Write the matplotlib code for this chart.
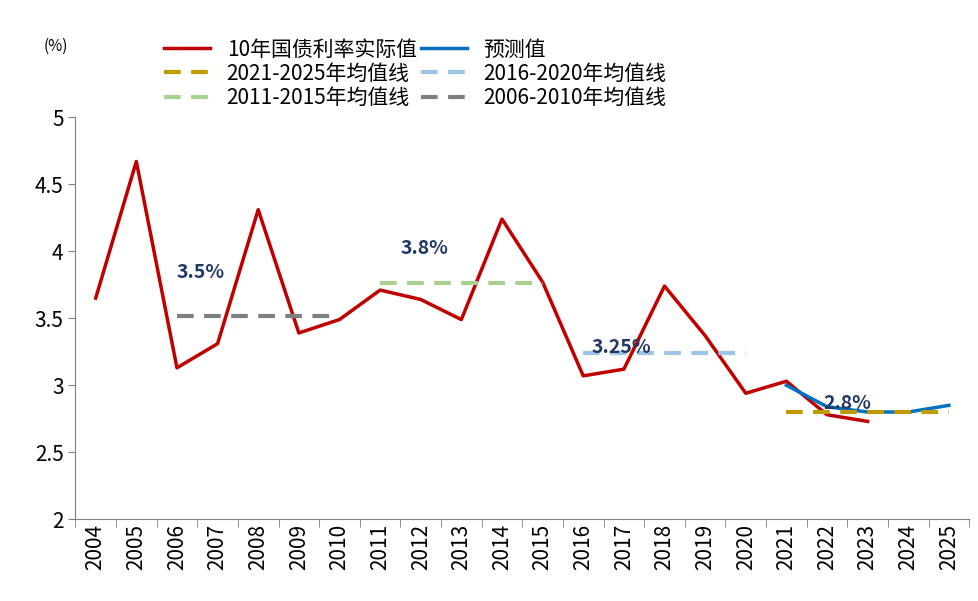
import matplotlib
matplotlib.use("Agg")
import matplotlib.pyplot as plt
from matplotlib import font_manager as fm
import numpy as np

cjk = [f.name for f in fm.fontManager.ttflist if "CJK" in f.name]
pref = [n for n in ["Noto Sans CJK SC", "Noto Sans CJK JP"] if n in cjk] or cjk[:1]
plt.rcParams["font.family"] = pref + ["DejaVu Sans"]

YEARS = list(range(2004, 2026))
ACTUAL = [3.65, 4.67, 3.13, 3.31, 4.31, 3.39, 3.49, 3.71, 3.64, 3.49, 4.24, 3.77,
          3.07, 3.12, 3.74, 3.37, 2.94, 3.03, 2.78, 2.73]
FORECAST_YEARS = [2021, 2022, 2023, 2024, 2025]
FORECAST = [3.00, 2.84, 2.80, 2.80, 2.85]
MEANS = [  # (label, start, end, value, colour)
    ("2021-2025年均值线", 2021, 2025, 2.80, "#C09B00"),
    ("2016-2020年均值线", 2016, 2020, 3.24, "#9DC3E6"),
    ("2011-2015年均值线", 2011, 2015, 3.76, "#A9D18E"),
    ("2006-2010年均值线", 2006, 2010, 3.52, "#7F7F7F"),
]
NOTES = [("3.5%", 2006.0, 3.8), ("3.8%", 2011.5, 3.98),
         ("3.25%", 2016.2, 3.24), ("2.8%", 2021.9, 2.82)]

fig = plt.figure(figsize=(9.79, 6.01), dpi=100)
ax = fig.add_axes([0.077, 0.136, 0.913, 0.669])

x = lambda y: np.array(y) - 2004
h_act, = ax.plot(x(YEARS[:len(ACTUAL)]), ACTUAL, color="#C00000", lw=2.5, label="10年国债利率实际值")
h_fc, = ax.plot(x(FORECAST_YEARS), FORECAST, color="#0070C0", lw=2.5, label="预测值")
hm = []
for lab, s, e, v, c in MEANS:
    h, = ax.plot(x([s, e]), [v, v], color=c, lw=3, ls=(0, (4, 2.5)), label=lab)
    hm.append(h)
for t, xx, yy in NOTES:
    ax.text(xx - 2004, yy, t, color="#1F3864", fontsize=14, fontweight="bold")

ax.set_xlim(-0.5, len(YEARS) - 0.5)
ax.set_ylim(2, 5)
ax.set_yticks([2, 2.5, 3, 3.5, 4, 4.5, 5])
ax.set_yticklabels(["2", "2.5", "3", "3.5", "4", "4.5", "5"], fontsize=15)
ax.set_xticks(np.arange(len(YEARS)))
ax.set_xticklabels([str(y) for y in YEARS], rotation=90, fontsize=15)
ax.set_xticks(np.arange(len(YEARS) + 1) - 0.5, minor=True)
ax.tick_params(axis="x", which="major", length=0)
ax.tick_params(axis="x", which="minor", length=6, color="#808080")
ax.tick_params(axis="y", length=5, color="#808080")
for s in ["top", "right"]:
    ax.spines[s].set_visible(False)
for s in ["left", "bottom"]:
    ax.spines[s].set_color("#808080")

fig.text(0.045, 0.915, "(%)", fontsize=11)
handles = [h_act, hm[0], hm[2], h_fc, hm[1], hm[3]]
ax.legend(handles=handles, loc="lower left", bbox_to_anchor=(0.09, 1.0), ncol=2,
          frameon=False, fontsize=15, handlelength=2.2, columnspacing=0.2,
          labelspacing=0.1, borderaxespad=0.0)
fig.savefig("out.png", dpi=100)
